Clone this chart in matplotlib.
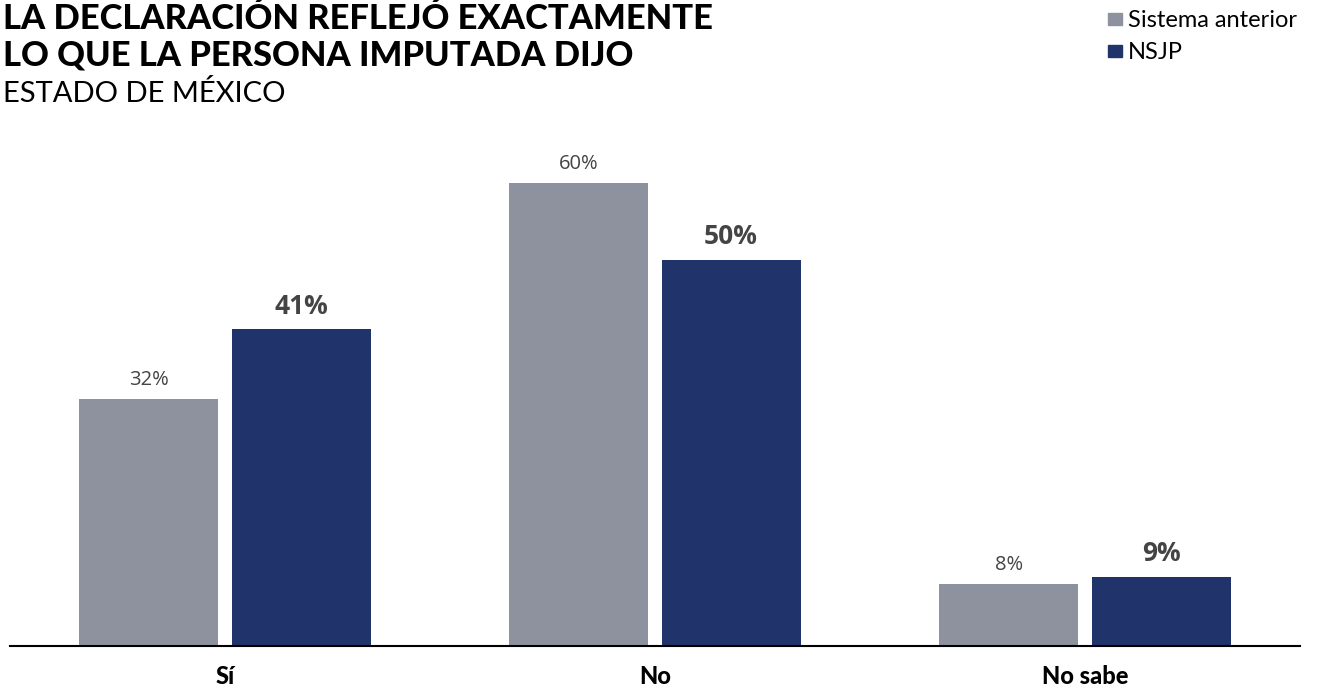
import numpy as np
import matplotlib
matplotlib.use("Agg")
import matplotlib.pyplot as plt
from matplotlib.patches import Rectangle

categorias = ["Sí", "No", "No sabe"]
series = ["Sistema anterior", "NSJP"]
sistema_anterior = [32, 60, 8]
nsjp = [41, 50, 9]

GRIS = "#8E919E"
AZUL = "#20346B"
TEXTO = "#444444"
W, H = 1320, 688

fig = plt.figure(figsize=(13.2, 6.88), dpi=100)
ax_alto = (646 - 144.2)
ax = fig.add_axes([10 / W, 1 - 646 / H, 1290 / W, ax_alto / H])

x = np.arange(len(categorias))
ancho = 0.323
off = 0.177

b1 = ax.bar(x - off, sistema_anterior, ancho, color=GRIS)
b2 = ax.bar(x + off, nsjp, ancho, color=AZUL)

for rect, v in zip(b1, sistema_anterior):
    ax.annotate(f"{v}%", (rect.get_x() + rect.get_width() / 2, v),
                xytext=(0, 10), textcoords="offset points", ha="center", va="baseline",
                fontsize=14.5, color=TEXTO, family=["Open Sans", "DejaVu Sans"])
for rect, v in zip(b2, nsjp):
    ax.annotate(f"{v}%", (rect.get_x() + rect.get_width() / 2, v),
                xytext=(0, 11.5), textcoords="offset points", ha="center", va="baseline",
                fontsize=19, color=TEXTO, family=["Open Sans", "DejaVu Sans"], fontweight="bold")

ax.set_xlim(-0.5, 2.5)
ax.set_ylim(0, 65)
ax.set_yticks([])
ax.set_xticks([])
for xi, cat in zip(x, categorias):
    ax.text(xi, -38 / ax_alto, cat, transform=ax.get_xaxis_transform(),
            ha="center", va="baseline", family="Lato", fontweight="black",
            fontsize=17, color="black")
for s in ["top", "right", "left"]:
    ax.spines[s].set_visible(False)
ax.spines["bottom"].set_linewidth(1.5)

fig.text(3 / W, 1 - 29 / H, "LA DECLARACIÓN REFLEJÓ EXACTAMENTE", ha="left", va="baseline",
         family="Lato", fontweight="black", fontsize=24.8, color="black")
fig.text(3 / W, 1 - 65 / H, "LO QUE LA PERSONA IMPUTADA DIJO", ha="left", va="baseline",
         family="Lato", fontweight="black", fontsize=24.8, color="black")
fig.text(3 / W, 1 - 102 / H, "ESTADO DE MÉXICO", ha="left", va="baseline",
         family="Lato", fontsize=21, color="black")

# leyenda
for i, (nombre, color) in enumerate(zip(series, [GRIS, AZUL])):
    y0 = 13 + 32 * i
    fig.patches.append(Rectangle((1108 / W, 1 - (y0 + 12) / H), 14 / W, 12 / H,
                                 transform=fig.transFigure, color=color))
    fig.text(1128 / W, 1 - (y0 + 14) / H, nombre, ha="left", va="baseline",
             family="Lato", fontsize=17, color="black")

fig.savefig("out.png", dpi=100)
